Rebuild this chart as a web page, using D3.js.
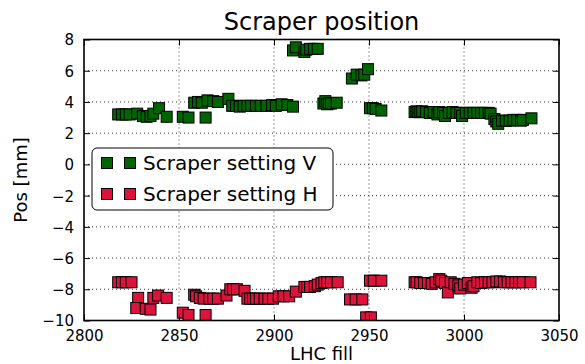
<!DOCTYPE html>
<html><head><meta charset="utf-8">
<script src="https://cdn.jsdelivr.net/npm/d3@7"></script>
<style>body{margin:0;background:#fff}svg{display:block}text{font-family:"DejaVu Sans",sans-serif}</style>
</head><body><svg id="c" width="585" height="364"></svg>
<script>
const xTicks=[2800,2850,2900,2950,3000,3050];
const yTicks=[-10,-8,-6,-4,-2,0,2,4,6,8];
const seriesNames=["Scraper setting V","Scraper setting H"];
const fillV=[2818,2820,2822,2824,2828,2831,2833,2835,2836.5,2839.5,2843.5,2852,2855,2864,2858,2860,2862,2865,2868,2870.5,2876,2878,2880,2882,2884,2886,2888,2890.5,2893,2896,2899,2901,2904,2907,2910,
2910,2911.5,2916,2917,2919,2921,2923,
2926,2927,2928,2929,2930,2933,
2941,2943.5,2946,2947.5,2949.5,
2950.5,2952,2953.5,2956.5,
2974,2975,2976,2977,2978,2980,2982,2984,2986,2987,2989,2990,2992,2994,2996,2998,2999,3001,3003,3005,3007,3009,3011,3013,3014,3016,3017,3018,3020,3022,3024,3026,3028,3030,3031,3035.5];
const posV=[3.2,3.2,3.2,3.2,3.25,3.1,3.05,3.1,3.25,3.6,3.05,3.05,3.0,3.0,3.95,4.0,3.95,4.1,4.05,4.0,4.2,3.75,3.75,3.7,3.75,3.75,3.75,3.75,3.75,3.75,3.8,3.75,3.85,3.8,3.7,
7.3,7.5,7.2,7.35,7.4,7.4,7.4,
3.9,4.05,3.85,3.9,3.9,3.95,
5.5,5.75,5.7,5.75,6.1,
3.6,3.6,3.55,3.45,
3.35,3.4,3.35,3.35,3.4,3.35,3.3,3.35,3.2,3.35,3.3,3.1,3.3,3.35,3.3,3.3,3.1,3.3,3.3,3.3,3.3,3.3,3.3,3.3,3.25,2.9,2.75,2.6,2.8,2.8,2.8,2.85,2.85,2.8,2.85,2.95];
const fillH=[2818,2820,2822,2825,2828.5,2827.5,2832.5,2835,2836.5,2839,2843.5,2852,2855,2864,2858,2859,2861,2863,2866,2868,2870.5,2875,2877,2878.5,2880.5,2884.5,2886,2887.5,2889,2890.5,2892.5,2895,2897,2899.5,2902.5,2905,2908,2911.5,2916,2917.5,2919,2921.5,2923,2925,2926.5,2928,2930,2933.5,2940,2943,2946.5,2948.5,2951,2950.5,2952.5,2956.5,
2974,2975,2977,2979,2981,2983,2985,2987,2988,2990,2991.5,2993,2995,2997,2998,3000,3002,3004,3005,3007,3009,3011,3013,3015,3017,3019,3021,3023,3025,3027,3029,3031,3035];
const posH=[-7.55,-7.55,-7.55,-7.55,-8.55,-9.2,-9.25,-9.3,-8.55,-8.4,-8.55,-9.5,-9.65,-9.65,-8.35,-8.45,-8.55,-8.6,-8.6,-8.6,-8.6,-8.4,-8.0,-8.0,-8.0,-8.1,-8.6,-8.6,-8.6,-8.6,-8.6,-8.6,-8.6,-8.6,-8.45,-8.45,-8.45,-8.15,-7.85,-7.85,-7.85,-7.8,-7.7,-7.6,-7.55,-7.55,-7.55,-7.55,-8.65,-8.65,-8.65,-9.8,-9.8,-7.45,-7.45,-7.45,
-7.55,-7.55,-7.6,-7.6,-7.6,-7.65,-7.55,-7.35,-7.45,-7.6,-8.2,-7.55,-7.65,-7.75,-7.95,-7.7,-7.6,-7.9,-7.8,-7.55,-7.6,-7.55,-7.55,-7.55,-7.5,-7.5,-7.55,-7.55,-7.55,-7.55,-7.55,-7.55,-7.55];

const W=585,H=364,m={l:84,r:26,t:39.5,b:43.5};
const svg=d3.select("#c");
const x=d3.scaleLinear().domain([2800,3050]).range([m.l,W-m.r]);
const y=d3.scaleLinear().domain([-10,8]).range([H-m.b,m.t]);
const colors=["#006400","#DC143C"];
const S=11;

const g=svg.append("g");
g.selectAll(".gx").data(xTicks.slice(1,-1)).join("line").attr("x1",d=>x(d)).attr("x2",d=>x(d)).attr("y1",m.t).attr("y2",H-m.b)
 .attr("stroke","#333").attr("stroke-width",1).attr("stroke-dasharray","1,3");
g.selectAll(".gy").data(yTicks.slice(1,-1)).join("line").attr("y1",d=>y(d)).attr("y2",d=>y(d)).attr("x1",m.l).attr("x2",W-m.r)
 .attr("stroke","#333").attr("stroke-width",1).attr("stroke-dasharray","1,3");

svg.append("clipPath").attr("id","cp").append("rect").attr("x",m.l).attr("y",m.t).attr("width",W-m.l-m.r).attr("height",H-m.t-m.b);
const dg=svg.append("g").attr("clip-path","url(#cp)");
[[fillV,posV],[fillH,posH]].forEach(([fx,fy],k)=>{
  dg.append("g").selectAll("rect").data(fx.map((f,i)=>[f,fy[i]])).join("rect")
   .attr("x",d=>x(d[0])-S/2).attr("y",d=>y(d[1])-S/2).attr("width",S).attr("height",S)
   .attr("fill",colors[k]).attr("stroke","#000").attr("stroke-width",1);
});

const fmt=d=>d<0?"\u2212"+Math.abs(d):String(d);
const ax=svg.append("g").attr("transform",`translate(0,${H-m.b})`).call(d3.axisBottom(x).tickValues(xTicks).tickSize(-6).tickPadding(10).tickFormat(fmt));
const axT=svg.append("g").attr("transform",`translate(0,${m.t})`).call(d3.axisTop(x).tickValues(xTicks).tickSize(-6).tickFormat(""));
const ay=svg.append("g").attr("transform",`translate(${m.l},0)`).call(d3.axisLeft(y).tickValues(yTicks).tickSize(-6).tickPadding(10).tickFormat(fmt));
const ayR=svg.append("g").attr("transform",`translate(${W-m.r},0)`).call(d3.axisRight(y).tickValues(yTicks).tickSize(-6).tickFormat(""));
[ax,axT,ay,ayR].forEach(a=>{a.select(".domain").remove();a.selectAll("line").attr("stroke","#000").attr("stroke-width",1);
 a.selectAll("text").attr("font-size",15).attr("fill","#000").attr("font-family","DejaVu Sans");});
ay.selectAll("text").attr("dy","0.36em");

svg.append("rect").attr("x",m.l).attr("y",m.t).attr("width",W-m.l-m.r).attr("height",H-m.t-m.b)
 .attr("fill","none").attr("stroke","#000").attr("stroke-width",1.6);

svg.append("text").attr("x",(m.l+W-m.r)/2).attr("y",30).attr("text-anchor","middle").attr("font-size",24).text("Scraper position");
svg.append("text").attr("x",(m.l+W-m.r)/2).attr("y",360).attr("text-anchor","middle").attr("font-size",18).text("LHC fill");
svg.append("text").attr("transform",`translate(27,${(m.t+H-m.b)/2}) rotate(-90)`).attr("text-anchor","middle").attr("font-size",18).text("Pos [mm]");

const lg=svg.append("g");
lg.append("rect").attr("x",92).attr("y",148).attr("width",241).attr("height",62).attr("rx",5)
 .attr("fill","#fff").attr("stroke","#000").attr("stroke-width",1);
seriesNames.forEach((n,i)=>{
  const yy=163+i*31;
  [107,130].forEach(xx=>lg.append("rect").attr("x",xx-S/2).attr("y",yy-S/2).attr("width",S).attr("height",S)
    .attr("fill",colors[i]).attr("stroke","#000").attr("stroke-width",1));
  lg.append("text").attr("x",143).attr("y",yy).attr("dy","0.35em").attr("font-size",20).text(n);
});
</script></body></html>
